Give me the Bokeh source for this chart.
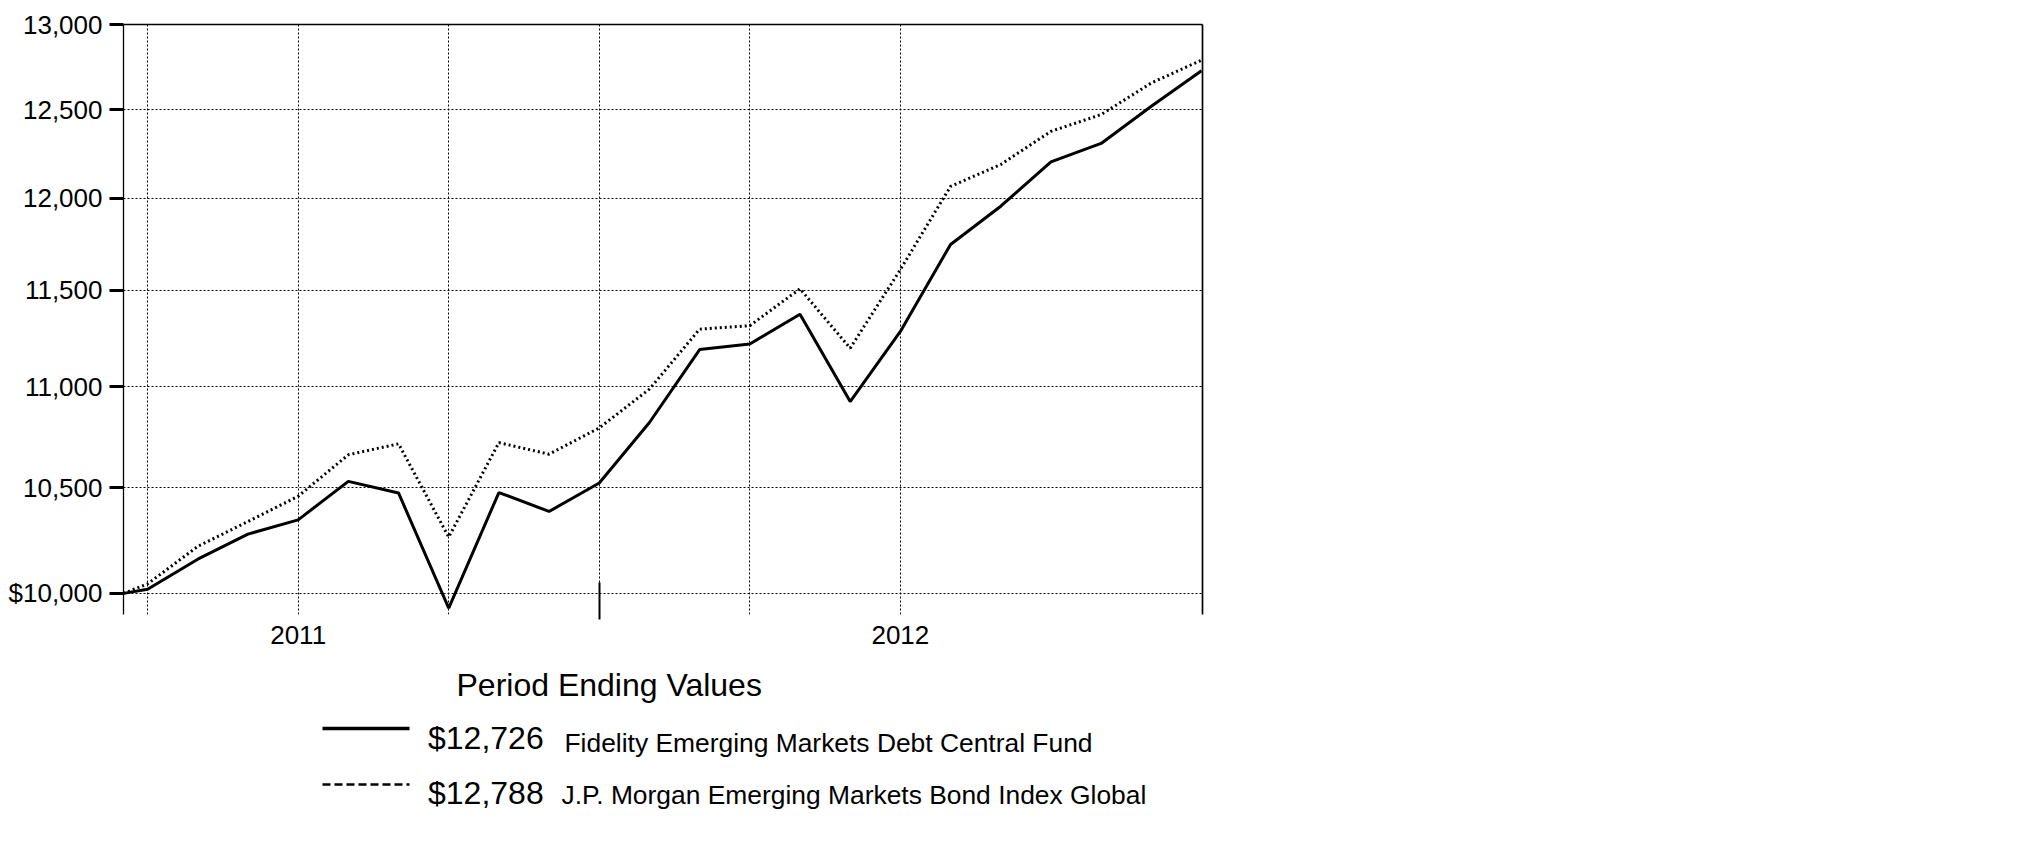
from bokeh.plotting import figure
from bokeh.models import Range1d, FixedTicker, LinearAxis, LogAxis
from bokeh.layouts import column
from bokeh.embed import file_html
from bokeh.resources import INLINE
from bokeh.core.properties import value

# ---------------- data ----------------
# month position (0 = first month end); first value is the inception point, mid-month
month_pos = [-0.48, 0, 1, 2, 3, 4, 5, 6, 7, 8, 9, 10, 11, 12, 13, 14, 15, 16, 17, 18, 19, 20, 21]
fund = [10000, 10019, 10159, 10277, 10345, 10530, 10474, 9932, 10476, 10385, 10522,
        10820, 11190, 11219, 11374, 10925, 11284, 11746, 11955, 12202, 12306, 12519, 12726]
bench = [10000, 10044, 10219, 10337, 10458, 10660, 10714, 10263, 10720, 10663, 10793,
         10988, 11296, 11314, 11508, 11197, 11611, 12065, 12187, 12375, 12471, 12654, 12788]
series_names = ["Fidelity Emerging Markets Debt Central Fund",
                "J.P. Morgan Emerging Markets Bond Index Global"]
legend_title = "Period Ending Values"

y_ticks = [10000, 10500, 11000, 11500, 12000, 12500, 13000]
y_tick_labels = ["$10,000", "10,500", "11,000", "11,500", "12,000", "12,500", "13,000"]
year_ticks = [3, 15]
year_labels = ["2011", "2012"]
quarter_grid = [0, 3, 6, 9, 12, 15]
mid_tick = [9]

FONT = "Liberation Sans"
BL, BR, BT, BB = 123, 20, 24, 43
FW, FH = 1079, 590

# ---------------- main chart ----------------
p = figure(frame_width=FW, frame_height=FH,
           x_range=Range1d(month_pos[0], 21.02), y_range=Range1d(9903, 13000),
           y_axis_type="log", output_backend="svg", toolbar_location=None,
           min_border_left=BL, min_border_top=BT, min_border_bottom=BB, min_border_right=BR,
           outline_line_color=None, background_fill_color="white", border_fill_color="white")

# y axis
ya = p.yaxis[0]
ya.ticker = FixedTicker(ticks=y_ticks)
ya.major_label_overrides = {t: l for t, l in zip(y_ticks, y_tick_labels)}
ya.major_label_text_font = FONT
ya.major_label_text_font_size = "26px"
ya.major_label_text_color = "black"
ya.major_label_standoff = 7
ya.major_tick_in = 0
ya.major_tick_out = 14
ya.major_tick_line_width = 3
ya.major_tick_line_color = "black"
ya.minor_tick_line_color = None
ya.axis_line_color = "black"
ya.axis_line_width = 1.3

# x axis
xa = p.xaxis[0]
xa.ticker = FixedTicker(ticks=year_ticks, minor_ticks=mid_tick)
xa.major_label_overrides = {t: l for t, l in zip(year_ticks, year_labels)}
xa.major_label_text_font = FONT
xa.major_label_text_font_size = "26px"
xa.major_label_text_color = "black"
xa.major_label_standoff = 6
xa.major_tick_in = 0
xa.major_tick_out = 0
xa.major_tick_line_color = None
xa.minor_tick_in = 32
xa.minor_tick_out = 5
xa.minor_tick_line_width = 2
xa.minor_tick_line_color = "black"
xa.axis_line_color = None

# top and right border lines
p.add_layout(LinearAxis(ticker=FixedTicker(ticks=[]), axis_line_width=1.7, axis_line_color="black",
                        major_label_text_font_size="0px", major_tick_line_color=None,
                        minor_tick_line_color=None), "above")
p.add_layout(LogAxis(ticker=FixedTicker(ticks=[]), axis_line_width=1.7, axis_line_color="black",
                     major_label_text_font_size="0px", major_tick_line_color=None,
                     minor_tick_line_color=None), "right")

# grids
p.xgrid.ticker = FixedTicker(ticks=quarter_grid)
p.xgrid.grid_line_color = "black"
p.xgrid.grid_line_dash = "2 2"
p.xgrid.grid_line_width = 1
p.ygrid.ticker = FixedTicker(ticks=y_ticks)
p.ygrid.grid_line_color = "black"
p.ygrid.grid_line_dash = "2 2"
p.ygrid.grid_line_width = 1

# series
p.line(month_pos, bench, line_color="black", line_width=3, line_dash="2 3")
p.line(month_pos, fund, line_color="black", line_width=3)

# ---------------- legend panel (coordinates = page pixels) ----------------
H = 180
TOP = 1 + BT + FH + BB          # page y where the legend panel begins
LEFT = 1 + BL                   # page x where the legend frame begins
q = figure(frame_width=FW, frame_height=H,
           x_range=Range1d(LEFT, LEFT + FW), y_range=Range1d(TOP + H, TOP),
           x_axis_type=None, y_axis_type=None, toolbar_location=None, output_backend="svg",
           min_border_left=BL, min_border_right=BR, min_border_top=0, min_border_bottom=0,
           outline_line_color=None, background_fill_color="white", border_fill_color="white")

q.text(x=[457], y=[685], text=[legend_title], text_font=value(FONT), text_font_size="32px",
       text_baseline="alphabetic", text_align="left", text_color="black")

finals = [fund[-1], bench[-1]]
line_y = [729, 785]
value_y = [738, 793]
label_y = [743, 795]
label_x = [565, 562]
dashes = ["solid", "8 4"]
widths = [3.5, 2.5]
for i in range(2):
    q.line([323, 410], [line_y[i], line_y[i]], line_color="black", line_width=widths[i],
           line_dash=dashes[i])
    q.text(x=[428.5], y=[value_y[i]], text=["${:,}".format(finals[i])], text_font=value(FONT),
           text_font_size="32px", text_baseline="alphabetic", text_align="left", text_color="black")
    q.text(x=[label_x[i]], y=[label_y[i]], text=[series_names[i]], text_font=value(FONT),
           text_font_size="26.4px", text_baseline="alphabetic", text_align="left", text_color="black")

layout = column(p, q)
open("out.html", "w").write(file_html(layout, INLINE))
